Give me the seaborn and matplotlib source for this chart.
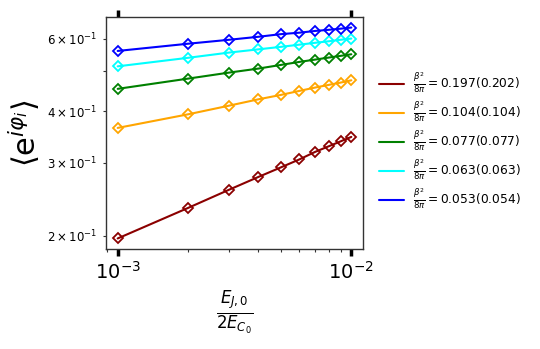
import numpy as np
import pandas as pd
import matplotlib
matplotlib.use("Agg")
import matplotlib.pyplot as plt
import seaborn as sns
from matplotlib.lines import Line2D

sns.set_style("ticks", rc={"text.color": "black", "axes.labelcolor": "black",
                           "xtick.color": "black", "ytick.color": "black"})

x_vals = [1e-3, 2e-3, 3e-3, 4e-3, 5e-3, 6e-3, 7e-3, 8e-3, 9e-3, 1e-2]

red = [0.197, 0.2335, 0.2585, 0.2775, 0.2928, 0.3061, 0.3191, 0.3292, 0.3384, 0.3469]
orange = [0.3647, 0.3934, 0.4129, 0.4277, 0.4384, 0.4483, 0.4567, 0.4635, 0.4695, 0.4755]
green = [0.4534, 0.480, 0.4964, 0.5076, 0.5181, 0.5269, 0.5337, 0.5397, 0.5449, 0.5497]
cyan = [0.514, 0.539, 0.555, 0.565, 0.573, 0.580, 0.586, 0.591, 0.596, 0.600]
blue = [0.560, 0.583, 0.596, 0.606, 0.615, 0.620, 0.626, 0.630, 0.634, 0.638]

labels = [
    r'$\frac{\beta^2}{8\pi}=0.197(0.202)$',
    r'$\frac{\beta^2}{8\pi}=0.104(0.104)$',
    r'$\frac{\beta^2}{8\pi}=0.077(0.077)$',
    r'$\frac{\beta^2}{8\pi}=0.063(0.063)$',
    r'$\frac{\beta^2}{8\pi}=0.053(0.054)$',
]
colors = ["darkred", "orange", "green", "cyan", "blue"]
series = [red, orange, green, cyan, blue]

rows = []
for lab, ys in zip(labels, series):
    for xv, yv in zip(x_vals, ys):
        rows.append({"x": xv, "y": yv, "series": lab})
df = pd.DataFrame(rows)

fig = plt.figure(figsize=(5.4, 3.49), dpi=100)
ax = fig.add_axes([106/540, 1-249/349, (363-106)/540, (249-17)/349])

sns.lineplot(data=df, x="x", y="y", hue="series", hue_order=labels,
             palette=colors, marker="D", markersize=5.5,
             lw=1.5, legend=False, ax=ax)
for ln in ax.lines:
    c = ln.get_color()
    ln.set_markerfacecolor("none")
    ln.set_markeredgecolor(c)
    ln.set_markeredgewidth(1.3)

ax.set_xscale("log")
ax.set_yscale("log")

for sp in ax.spines.values():
    sp.set_visible(True)
    sp.set_color("0.2")
    sp.set_linewidth(1.0)

ax.tick_params(axis="x", which="major", top=True, length=5, width=2.5,
               color="black", labelsize=14)
ax.tick_params(axis="x", which="minor", length=2.5, width=0.8, color="0.2")
ax.tick_params(axis="y", which="minor", length=2.5, width=0.8, color="0.2",
               labelsize=8.5)
ax.tick_params(axis="y", which="major", labelsize=14)

ax.set_ylabel(r'$\langle \mathrm{e}^{i\varphi_i}\rangle$', fontsize=22)
ax.set_xlabel(r'$\frac{E_{J,0}}{2E_{C_0}}$', fontsize=17)

handles = [Line2D([], [], color=c, lw=1.5) for c in colors]
ax.legend(handles, labels, loc="center left", bbox_to_anchor=(1.02, 0.465),
          frameon=False, fontsize=8.8, labelspacing=0.4)

fig.savefig("out.png", dpi=100)
